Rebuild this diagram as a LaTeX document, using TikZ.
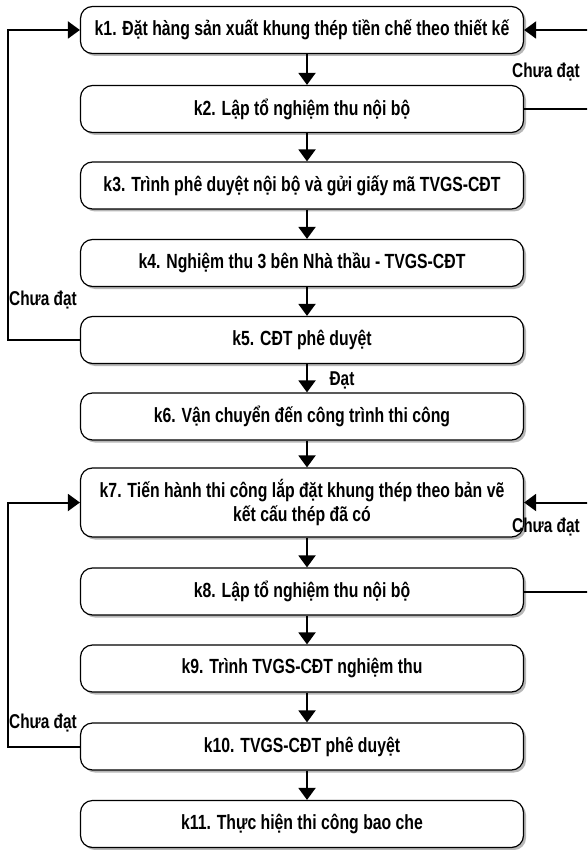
\documentclass[tikz,border=0pt]{standalone}
\usepackage{fontspec}
\setmainfont{Liberation Sans}[FakeStretch=0.77]
\usetikzlibrary{arrows.meta,shadows}
\begin{document}
\begin{tikzpicture}[x=1pt,y=-1pt,
  box/.style={draw=black, line width=1.2pt, fill=white, rounded corners=12pt,
    minimum width=443pt, minimum height=47pt, align=center, inner sep=2pt,
    font=\fontsize{20.5}{24.5}\selectfont\bfseries,
    drop shadow={shadow xshift=2.5pt, shadow yshift=-2.5pt, fill=black!40, opacity=0.7}},
  arr/.style={line width=2pt, -{Triangle[width=17pt,length=12pt]}},
  loopline/.style={line width=2pt, -{Triangle[width=17pt,length=12pt]}},
  lbl/.style={font=\fontsize{20}{24}\selectfont\bfseries, inner sep=0pt}]
\useasboundingbox (0,0) rectangle (587,850);
\clip (0,0) rectangle (587,850);
\fill[white] (0,0) rectangle (587,850);
\node[box] (k1) at (302,30) {k1. Đặt hàng sản xuất khung thép tiền chế theo thiết kế};
\node[box] (k2) at (302,109) {k2. Lập tổ nghiệm thu nội bộ};
\node[box] (k3) at (302,185.5) {k3. Trình phê duyệt nội bộ và gửi giấy mã TVGS-CĐT};
\node[box] (k4) at (302,263) {k4. Nghiệm thu 3 bên Nhà thầu - TVGS-CĐT};
\node[box] (k5) at (302,340) {k5. CĐT phê duyệt};
\node[box] (k6) at (302,416.5) {k6. Vận chuyển đến công trình thi công};
\node[box, minimum height=69pt] (k7) at (302,502.5) {k7. Tiến hành thi công lắp đặt khung thép theo bản vẽ\\kết cấu thép đã có};
\node[box] (k8) at (302,591.5) {k8. Lập tổ nghiệm thu nội bộ};
\node[box] (k9) at (302,668.5) {k9. Trình TVGS-CĐT nghiệm thu};
\node[box] (k10) at (302,746.5) {k10. TVGS-CĐT phê duyệt};
\node[box] (k11) at (302,824) {k11. Thực hiện thi công bao che};
% down arrows
\foreach \a/\b in {k1/k2,k2/k3,k3/k4,k4/k5,k5/k6,k6/k7,k7/k8,k8/k9,k9/k10,k10/k11}{
  \draw[arr] ([xshift=5pt]\a.south) -- ([xshift=5pt]\b.north);
}
% loops
\draw[loopline] (k5.west) -- ++(-72,0) |- (k1.west);
\draw[loopline] (k2.east) -- ++(80,0) |- (k1.east);
\draw[loopline] (k10.west) -- ++(-72,0) |- (k7.west);
\draw[loopline] (k8.east) -- ++(80,0) |- (k7.east);
% labels
\node[lbl] (l1) at (43,300) {Chưa đạt};
\node[lbl] (r1) at (546,72) {Chưa đạt};
\node[lbl] (l2) at (43,723) {Chưa đạt};
\node[lbl] (r2) at (546,527) {Chưa đạt};
\node[lbl] (d1) at (342,380) {Đạt};
\end{tikzpicture}
\end{document}
